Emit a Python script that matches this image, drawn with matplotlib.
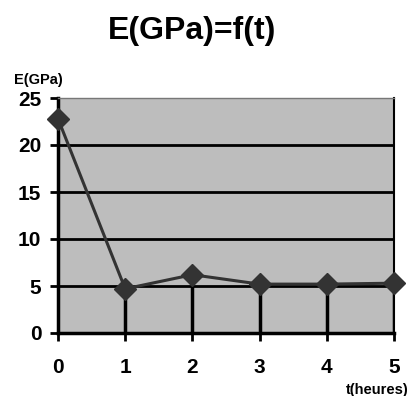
import matplotlib
matplotlib.use("Agg")
import matplotlib.pyplot as plt

plt.rcParams["font.family"] = ["Liberation Sans", "DejaVu Sans"]

t = [0, 1, 2, 3, 4, 5]
E = [22.8, 4.7, 6.2, 5.2, 5.2, 5.3]
yticks = [0, 5, 10, 15, 20, 25]

fig = plt.figure(figsize=(4.13, 3.96), dpi=100)
ax = fig.add_axes([58/413, 63/396, 336/413, 235/396])
ax.set_facecolor("#bdbdbd")
ax.set_xlim(0, 5)
ax.set_ylim(0, 25)

for y in yticks[1:-1]:
    ax.axhline(y, color="black", lw=2, zorder=1)
ax.vlines(t[1:], 0, E[1:], color="black", lw=2.5, zorder=2)
ax.plot(t, E, color="#333333", lw=2.2, marker="D", markersize=11.5,
        markerfacecolor="#333333", markeredgecolor="#333333", zorder=3, clip_on=False)

for s in ["left", "bottom"]:
    ax.spines[s].set_linewidth(2.5)
    ax.spines[s].set_color("black")
ax.spines["right"].set_linewidth(1.5)
ax.spines["right"].set_color("black")
ax.spines["top"].set_linewidth(1)
ax.spines["top"].set_color("#777777")

ax.set_xticks(t)
ax.set_yticks(yticks)
ax.tick_params(axis="both", direction="out", length=6, width=2, labelsize=15)
ax.tick_params(axis="x", pad=12)
ax.tick_params(axis="y", pad=6)
for lab in ax.get_xticklabels() + ax.get_yticklabels():
    lab.set_fontweight("bold")

fig.text(192/413, 1 - 31/396, "E(GPa)=f(t)", ha="center", va="center", fontsize=23, fontweight="bold")
fig.text(14/413, 1 - 80/396, "E(GPa)", ha="left", va="center", fontsize=10.5, fontweight="bold")
fig.text(409/413, 1 - 390/396, "t(heures)", ha="right", va="center", fontsize=10.5, fontweight="bold")

fig.savefig("out.png", dpi=100)
